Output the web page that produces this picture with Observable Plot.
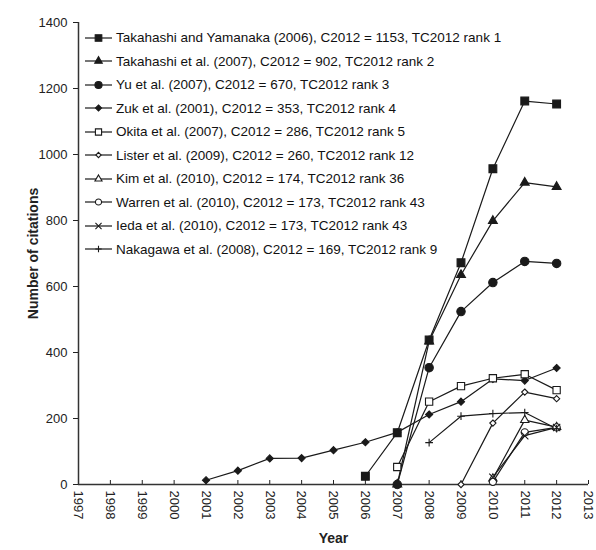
<!DOCTYPE html>
<html><head><meta charset="utf-8">
<script src="https://cdn.jsdelivr.net/npm/d3@7"></script>
<script src="https://cdn.jsdelivr.net/npm/@observablehq/plot@0.6"></script>
<style>
body{margin:0;background:#fff;}
#wrap{position:relative;width:596px;height:550px;}
#legend{position:absolute;left:84px;top:26px;font:13.5px "Liberation Sans",Arial,sans-serif;color:#111;}
.row{height:23.5px;display:flex;align-items:center;white-space:nowrap;}
.row svg{margin-right:2px;}
</style></head><body><div id="wrap"><div id="legend"></div></div>
<script>
// ---- data ----
const seriesNames = [
  "Takahashi and Yamanaka (2006), C2012 = 1153, TC2012 rank 1",
  "Takahashi et al. (2007), C2012 = 902, TC2012 rank 2",
  "Yu et al. (2007), C2012 = 670, TC2012 rank 3",
  "Zuk et al. (2001), C2012 = 353, TC2012 rank 4",
  "Okita et al. (2007), C2012 = 286, TC2012 rank 5",
  "Lister et al. (2009), C2012 = 260, TC2012 rank 12",
  "Kim et al. (2010), C2012 = 174, TC2012 rank 36",
  "Warren et al. (2010), C2012 = 173, TC2012 rank 43",
  "Ieda et al. (2010), C2012 = 173, TC2012 rank 43",
  "Nakagawa et al. (2008), C2012 = 169, TC2012 rank 9"
];
const seriesStartYear = [2006, 2007, 2007, 2001, 2007, 2009, 2010, 2010, 2010, 2008];
const takahashiYamanaka = [25, 157, 438, 672, 957, 1162, 1153];
const takahashi2007 = [0, 434, 635, 799, 915, 902];
const yu2007 = [0, 354, 524, 612, 676, 670];
const zuk2001 = [13, 42, 79, 80, 104, 128, 158, 212, 251, 320, 315, 353];
const okita2007 = [53, 251, 298, 322, 334, 286];
const lister2009 = [0, 186, 280, 260];
const kim2010 = [18, 195, 174];
const warren2010 = [8, 158, 173];
const ieda2010 = [22, 148, 173];
const nakagawa2008 = [127, 207, 215, 218, 169];
const seriesValues = [takahashiYamanaka, takahashi2007, yu2007, zuk2001, okita2007,
  lister2009, kim2010, warren2010, ieda2010, nakagawa2008];
const yearTicks = [1997,1998,1999,2000,2001,2002,2003,2004,2005,2006,2007,2008,2009,2010,2011,2012,2013];
const citationTicks = [0, 200, 400, 600, 800, 1000, 1200, 1400];

// ---- styles ----
const ink = "#1a1a1a";
const markerStyles = [
  {symbol: "square", fill: ink, r: 4.4},
  {symbol: "triangle", fill: ink, r: 3.3},
  {symbol: "circle", fill: ink, r: 4.2},
  {symbol: "diamond2", fill: ink, r: 3.2},
  {symbol: "square", fill: "white", r: 4.1},
  {symbol: "diamond2", fill: "white", r: 2.8},
  {symbol: "triangle", fill: "white", r: 3.1},
  {symbol: "circle", fill: "white", r: 3.6},
  {symbol: "times", fill: "none", r: 3.4},
  {symbol: "plus", fill: "none", r: 2.6}
];

const rows = [];
seriesNames.forEach((name, i) => {
  seriesValues[i].forEach((v, j) => rows.push({series: i, year: seriesStartYear[i] + j, value: v}));
});

const lineMarks = seriesNames.map((n, i) =>
  Plot.line(rows.filter(d => d.series === i), {x: "year", y: "value", stroke: ink, strokeWidth: 1.2}));
const dotMarks = seriesNames.map((n, i) =>
  Plot.dot(rows.filter(d => d.series === i), {x: "year", y: "value", symbol: markerStyles[i].symbol,
    r: markerStyles[i].r, fill: markerStyles[i].fill, stroke: ink, strokeWidth: 1.1}));

const chart = Plot.plot({
  width: 596, height: 550,
  marginLeft: 78, marginRight: 8, marginTop: 22, marginBottom: 66,
  x: {domain: [1997, 2013]},
  y: {domain: [0, 1400]},
  style: {fontFamily: "'Liberation Sans', Arial, sans-serif", fontSize: "13px", color: "#222", background: "white"},
  marks: [
    Plot.axisY({ticks: citationTicks, tickFormat: d => String(d), tickSize: 5, tickPadding: 6, label: "Number of citations",
      labelAnchor: "center", labelArrow: "none", labelOffset: 50}),
    Plot.axisX({ticks: yearTicks, tickFormat: d => String(d), tickRotate: 90, tickSize: -4, tickPadding: 10,
      label: "Year", labelAnchor: "center", labelArrow: "none", labelOffset: 58}),
    Plot.ruleX([1997], {stroke: "#333", strokeWidth: 1.5}),
    Plot.ruleY([0], {stroke: "#333", strokeWidth: 1.5}),
    ...lineMarks,
    ...dotMarks
  ]
});
document.getElementById("wrap").prepend(chart);
d3.select(chart).selectAll('[aria-label="y-axis label"] text, [aria-label="x-axis label"] text')
  .attr("font-weight", "bold").attr("font-size", 14);

// ---- legend ----
const legend = d3.select("#legend");
seriesNames.forEach((name, i) => {
  const row = legend.append("div").attr("class", "row");
  const s = row.append("svg").attr("width", 30).attr("height", 14);
  s.append("line").attr("x1", 1).attr("x2", 28).attr("y1", 7).attr("y2", 7).attr("stroke", ink).attr("stroke-width", 1.2);
  const m = markerStyles[i];
  const sym = {square: d3.symbolSquare, triangle: d3.symbolTriangle, circle: d3.symbolCircle,
    diamond2: d3.symbolDiamond2, times: d3.symbolTimes, plus: d3.symbolPlus}[m.symbol];
  const rr = m.r * 0.85;
  s.append("path").attr("transform", "translate(14.5,7)")
    .attr("d", d3.symbol(sym, Math.PI * rr * rr)())
    .attr("fill", m.fill).attr("stroke", ink).attr("stroke-width", 1.1);
  row.append("span").text(name);
});
</script>
</body></html>
